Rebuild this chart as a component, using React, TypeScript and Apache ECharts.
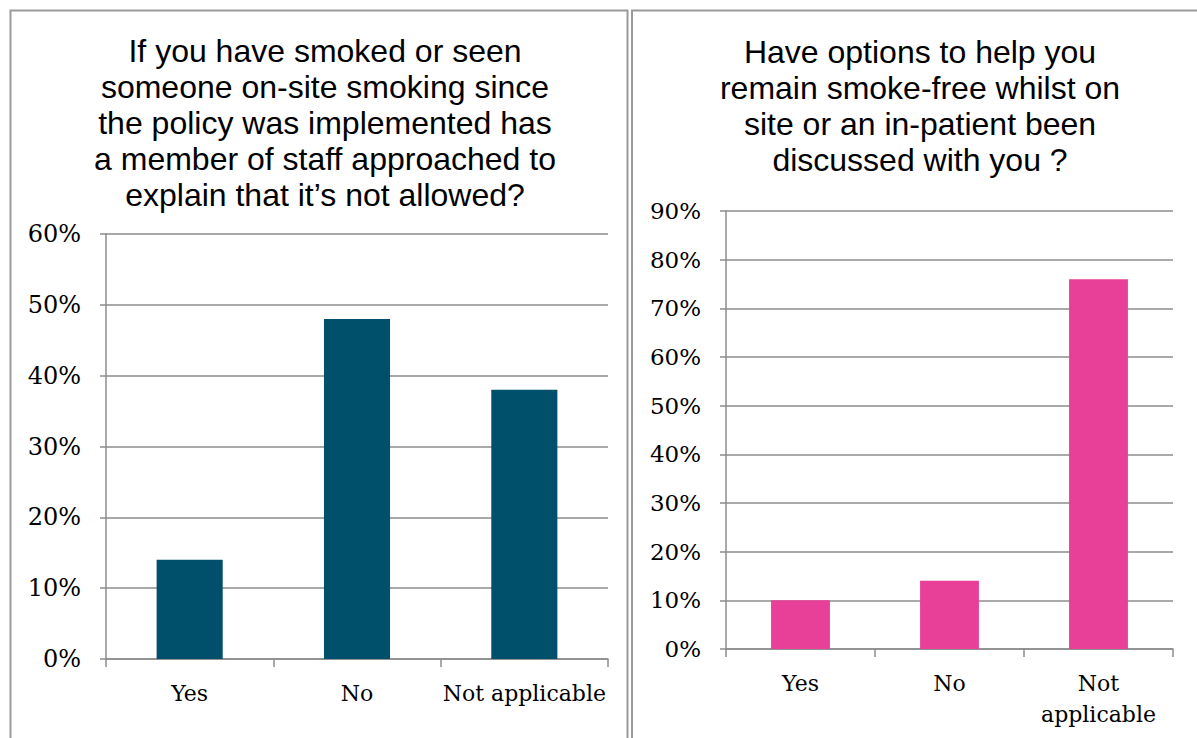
import React, { useEffect, useRef } from "react";
import * as echarts from "echarts";

const leftTitle =
  "If you have smoked or seen\nsomeone on-site smoking since\nthe policy was implemented has\na member of staff approached to\nexplain that it\u2019s not allowed?";
const rightTitle =
  "Have options to help you\nremain smoke-free whilst on\nsite or an in-patient been\ndiscussed with you ?";

const leftCategories = ["Yes", "No", "Not applicable"];
const leftValues = [14, 48, 38];
const rightCategories = ["Yes", "No", "Not\napplicable"];
const rightValues = [10, 14, 76];

const GRID_COLOR = "#8c8c8c";
const LABEL_FONT = "DejaVu Serif";

export default function App() {
  const ref = useRef<HTMLDivElement>(null);
  useEffect(() => {
    if (!ref.current) return;
    const chart = echarts.init(ref.current, undefined, { renderer: "svg" });
    const axisLabelStyle = { color: "#000", fontFamily: LABEL_FONT, fontSize: 22 };
    const yAxisCommon = {
      type: "value" as const,
      min: 0,
      interval: 10,
      axisLine: { show: true, lineStyle: { color: GRID_COLOR, width: 1.5 } },
      axisTick: { show: true, length: 6, lineStyle: { color: GRID_COLOR, width: 1.5 } },
      splitLine: { show: true, lineStyle: { color: GRID_COLOR, width: 1.5 } },
      axisLabel: { ...axisLabelStyle, fontSize: 24, margin: 25, formatter: "{value}%" },
    };
    const xAxisCommon = {
      type: "category" as const,
      axisLine: { show: true, lineStyle: { color: GRID_COLOR, width: 1.5 } },
      axisTick: { show: true, length: 8, inside: false, lineStyle: { color: GRID_COLOR, width: 1.5 } },
      axisLabel: { ...axisLabelStyle, margin: 19, interval: 0, lineHeight: 31 },
    };
    const titleStyle = {
      fontFamily: "Liberation Sans",
      fontSize: 32,
      fontWeight: "normal" as const,
      color: "#000",
      lineHeight: 36,
    };
    chart.setOption({
      animation: false,
      backgroundColor: "#fff",
      title: [
        { text: leftTitle, left: 320, top: 28, textAlign: "center", textStyle: titleStyle },
        { text: rightTitle, left: 915, top: 29, textAlign: "center", textStyle: titleStyle },
      ],
      graphic: [
        {
          type: "rect",
          shape: { x: 10.5, y: 10.5, width: 617, height: 760 },
          style: { fill: "none", stroke: "#9a9a9a", lineWidth: 2 },
          z: -1,
        },
        {
          type: "rect",
          shape: { x: 632, y: 10.5, width: 600, height: 760 },
          style: { fill: "none", stroke: "#9a9a9a", lineWidth: 2 },
          z: -1,
        },
      ],
      grid: [
        { left: 106, top: 234, width: 502, height: 425 },
        { left: 726, top: 211, width: 447, height: 438 },
      ],
      xAxis: [
        { ...xAxisCommon, gridIndex: 0, data: leftCategories },
        { ...xAxisCommon, gridIndex: 1, data: rightCategories },
      ],
      yAxis: [
        { ...yAxisCommon, gridIndex: 0, max: 60 },
        {
          ...yAxisCommon,
          gridIndex: 1,
          max: 90,
          axisLabel: { ...yAxisCommon.axisLabel, fontSize: 23 },
        },
      ],
      series: [
        {
          type: "bar",
          xAxisIndex: 0,
          yAxisIndex: 0,
          data: leftValues,
          barWidth: "39.5%",
          itemStyle: { color: "#00506b" },
        },
        {
          type: "bar",
          xAxisIndex: 1,
          yAxisIndex: 1,
          data: rightValues,
          barWidth: "39.5%",
          itemStyle: { color: "#e84098" },
        },
      ],
    });
    return () => chart.dispose();
  }, []);
  return (
    <div
      ref={ref}
      style={{ position: "fixed", left: 0, top: 0, width: 1197, height: 738 }}
    />
  );
}
